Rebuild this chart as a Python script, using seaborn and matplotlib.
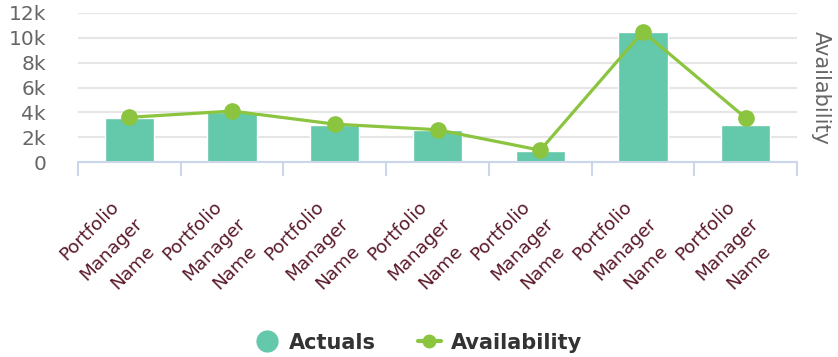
import matplotlib
matplotlib.use("Agg")
import matplotlib.pyplot as plt
from matplotlib.lines import Line2D
from matplotlib.ticker import FixedLocator, FuncFormatter
import seaborn as sns
import pandas as pd

categories = ["Portfolio\nManager\nName"] * 7
actuals = [3550, 4000, 3000, 2600, 900, 10500, 2950]
availability = [3600, 4100, 3050, 2600, 950, 10500, 3550]
y_ticks = [0, 2000, 4000, 6000, 8000, 10000, 12000]

BAR = "#64c8aa"
LINE = "#8bc43f"
LABEL = "#5a1a2a"
GRID = "#e6e6e6"
AXIS = "#ccd6eb"
TXT = "#666666"

sns.set_theme(style="white")
plt.rcParams["font.family"] = ["DejaVu Sans"]

slots = list(range(len(categories)))
df = pd.DataFrame({"slot": slots, "Actuals": actuals, "Availability": availability})

fig = plt.figure(figsize=(8.38, 3.57), dpi=100)
ax = fig.add_axes([0.0931, 0.5462, 0.858, 0.4174])

sns.barplot(data=df, x="slot", y="Actuals", color=BAR, width=0.48, ax=ax,
            saturation=1, zorder=2)
sns.lineplot(data=df, x="slot", y="Availability", color=LINE, linewidth=2.3,
             marker="o", markersize=12, markeredgewidth=0, ax=ax, zorder=3)

ax.set_xlim(-0.5, len(categories) - 0.5)
ax.set_ylim(0, 12000)
ax.set_yticks(y_ticks)
ax.yaxis.set_major_formatter(FuncFormatter(lambda v, p: "0" if v == 0 else f"{v/1000:g}k"))
ax.tick_params(axis="y", length=0, pad=23, labelsize=14.5, labelcolor=TXT)
ax.grid(axis="y", color=GRID, linewidth=1.5, zorder=0)
ax.set_axisbelow(True)

ax.set_xticks(slots)
ax.set_xticklabels([""] * len(categories))
ax.xaxis.set_minor_locator(FixedLocator([i - 0.5 for i in range(len(categories) + 1)]))
ax.tick_params(axis="x", which="major", length=0)
ax.tick_params(axis="x", which="minor", length=10, width=1.5, color=AXIS, direction="out",
               bottom=True)

# multi-line rotated category labels, one text per line (centered lines)
line_offsets = [(-40, -69), (-18, -87), (3, -105)]
for i, cat in enumerate(categories):
    for part, (dx, dy) in zip(cat.split("\n"), line_offsets):
        ax.annotate(part, xy=(i, 0), xycoords=("data", "axes fraction"),
                    xytext=(dx, dy), textcoords="offset pixels",
                    rotation=45, rotation_mode="anchor", ha="center", va="center",
                    fontsize=13.2, color=LABEL, annotation_clip=False)

ax.set_xlabel("")
ax.set_ylabel("")
for s in ["top", "left", "right"]:
    ax.spines[s].set_visible(False)
ax.spines["bottom"].set_color(AXIS)
ax.spines["bottom"].set_linewidth(1.5)

ax2 = ax.twinx()
ax2.set_ylim(ax.get_ylim())
ax2.set_yticks([])
for s in ax2.spines.values():
    s.set_visible(False)
ax2.set_ylabel("Availability", rotation=270, fontsize=15, color=TXT, labelpad=24)

handles = [
    Line2D([], [], marker="o", linestyle="none", color=BAR, markersize=16, markeredgewidth=0),
    Line2D([], [], marker="o", color=LINE, linewidth=3, markersize=10, markeredgewidth=0),
]
fig.legend(handles, ["Actuals", "Availability"], loc="center", bbox_to_anchor=(0.5, 0.04),
           ncol=2, frameon=False, handlelength=1.1, handletextpad=0.5, columnspacing=2.0,
           prop={"size": 15, "weight": "bold"}, labelcolor="#333333")

fig.savefig("out.png", dpi=100)
